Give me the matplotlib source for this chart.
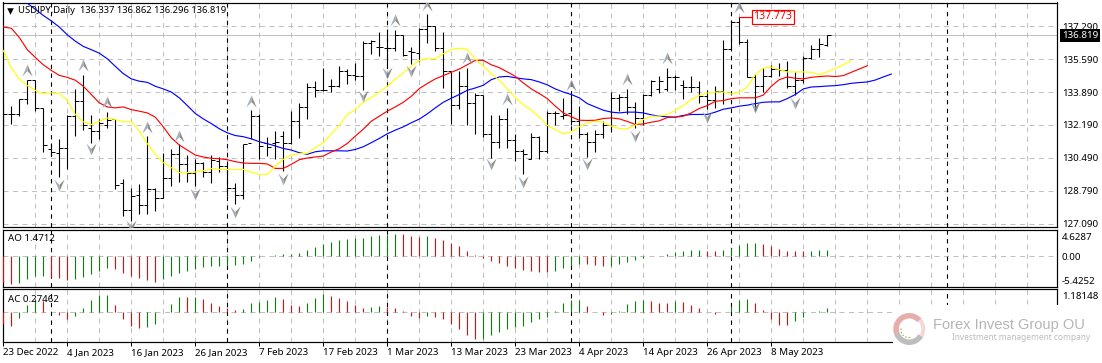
import numpy as np
import matplotlib
matplotlib.use('Agg')
import matplotlib.pyplot as plt
from matplotlib.path import Path
from matplotlib.patches import Rectangle, Wedge, Arc

#=======================================================================================
# Values
#=======================================================================================

highs = [133.19,133.19,133.55,134.50,134.50,133.07,131.27,131.44,132.68,134.05,
	134.79,132.68,132.50,132.87,132.52,129.41,128.91,129.15,131.61,128.91,
	130.72,130.92,131.18,130.62,130.44,130.27,130.62,130.55,130.24,129.17,
	131.22,132.95,132.73,131.58,131.85,131.90,132.93,133.33,134.36,134.45,
	135.13,134.57,135.25,135.08,135.39,136.54,136.59,136.97,136.94,137.11,
	136.82,136.21,137.19,137.93,137.33,136.99,134.93,134.96,135.13,133.84,
	133.76,132.68,132.68,133.04,131.70,130.96,131.78,131.61,132.90,132.93,
	133.59,133.84,133.19,131.82,131.92,132.38,133.88,133.79,134.05,133.36,
	133.79,134.53,134.70,135.13,134.79,134.53,134.74,134.48,133.98,134.22,
	136.59,137.59,137.773,136.63,134.84,135.13,135.30,135.39,135.51,134.91,
	135.73,136.33,136.68,136.862]
lows = [132.13,132.26,132.64,133.29,132.90,130.79,130.58,129.50,129.89,131.64,
	131.95,131.27,131.44,132.04,128.86,127.49,127.23,127.57,127.57,127.74,
	128.40,129.03,129.24,129.24,129.03,129.50,129.17,129.75,128.52,128.09,
	128.35,131.44,130.44,130.58,130.41,129.81,131.18,131.49,132.52,133.62,
	133.93,133.89,134.15,134.32,134.53,134.02,135.87,135.73,135.30,135.99,
	135.73,135.35,135.51,136.45,135.99,134.10,132.26,133.02,132.21,131.70,
	131.58,130.49,131.01,131.01,130.32,129.63,130.44,130.41,130.75,132.16,
	132.50,132.21,131.52,130.55,130.79,131.52,131.82,132.93,132.73,132.04,
	132.21,133.67,133.84,133.93,133.98,133.53,133.88,133.33,133.02,133.07,
	133.29,136.08,136.37,134.65,132.90,133.88,134.65,134.70,134.10,133.76,
	134.36,135.60,135.70,136.296]
opens = [132.72,132.76,132.76,133.53,134.50,133.04,130.92,130.75,131.01,132.64,
	133.45,132.04,131.90,132.21,132.47,129.21,127.80,128.55,128.05,128.90,
	128.40,129.46,130.67,130.15,129.72,130.24,129.75,130.32,130.06,128.95,
	128.57,131.27,132.64,131.23,131.27,131.61,131.23,132.38,133.10,134.15,
	133.98,134.22,134.22,135.00,134.79,134.74,136.45,136.20,136.16,136.16,
	136.82,135.99,135.90,137.16,137.31,136.16,134.96,133.21,134.19,133.33,
	133.72,131.73,131.32,132.47,131.39,130.84,130.44,131.58,130.84,132.81,
	132.64,132.81,132.38,131.70,131.32,131.70,132.21,133.59,133.64,133.12,
	132.55,133.76,134.05,134.05,134.67,134.27,134.15,134.15,133.67,133.50,
	133.93,136.11,137.49,136.47,134.65,134.22,134.74,135.10,135.05,134.22,
	134.53,135.65,136.11,136.337]
closes = [132.76,132.76,133.53,134.50,133.04,131.13,130.80,131.01,132.64,133.45,
	132.21,131.90,132.30,132.43,129.10,127.80,128.52,128.05,128.90,128.40,
	129.46,130.67,130.15,129.72,130.24,129.75,130.37,130.06,128.95,128.57,
	131.18,132.64,131.10,131.06,131.30,131.23,132.38,133.10,134.15,133.98,
	134.02,134.19,135.00,134.79,134.74,136.45,136.54,136.20,136.16,136.82,
	135.78,135.96,137.16,137.31,136.16,134.96,133.21,134.19,133.33,133.76,
	131.73,131.32,132.47,131.39,130.84,130.70,131.58,130.84,132.81,132.81,
	132.68,132.38,131.70,131.32,131.70,132.21,133.59,133.64,133.12,132.55,
	133.76,134.48,134.48,134.67,134.67,134.15,134.15,133.67,133.50,133.93,
	136.11,137.49,136.47,134.65,134.22,134.74,135.10,135.05,134.22,134.53,
	135.65,136.11,136.38,136.819]

jaw = [139.69,139.26,138.79,138.48,138.17,137.85,137.57,137.25,136.85,136.52,
	136.25,136.08,135.90,135.61,135.22,134.84,134.57,134.45,134.39,134.19,
	134.05,133.89,133.59,133.19,132.78,132.50,132.26,131.99,131.78,131.64,
	131.58,131.47,131.32,131.22,131.10,130.97,130.89,130.75,130.67,130.80,
	130.85,130.85,130.85,130.84,130.92,131.06,131.27,131.49,131.73,131.92,
	132.09,132.30,132.49,132.76,133.07,133.36,133.57,133.76,133.98,134.10,
	134.24,134.53,134.67,134.70,134.63,134.57,134.53,134.41,134.26,134.05,
	133.89,133.76,133.59,133.29,133.12,132.95,132.85,132.81,132.85,132.85,
	132.81,132.71,132.64,132.61,132.59,132.68,132.73,132.73,132.73,132.85,
	133.00,133.07,133.16,133.21,133.29,133.36,133.38,133.38,133.55,133.76,
	134.05,134.15,134.17,134.20,134.22,134.27,134.34,134.38,134.41,134.51,
	134.67,134.82]
teeth = [137.25,137.19,136.71,136.08,135.68,135.30,135.01,134.75,134.65,134.50,
	134.19,133.76,133.33,133.12,133.07,133.12,132.98,132.90,132.81,132.59,
	132.09,131.52,131.15,130.89,130.63,130.53,130.46,130.44,130.39,130.29,
	130.22,130.20,130.20,130.17,129.94,129.94,130.15,130.39,130.48,130.53,
	130.58,130.79,130.96,131.23,131.61,131.97,132.38,132.64,132.90,133.12,
	133.36,133.67,134.07,134.33,134.57,134.74,134.91,135.08,135.30,135.53,
	135.53,135.30,135.15,134.93,134.70,134.36,134.05,133.81,133.55,133.16,
	132.81,132.61,132.43,132.42,132.43,132.52,132.55,132.50,132.37,132.21,
	132.24,132.33,132.40,132.57,132.59,132.64,132.81,133.04,133.19,133.41,
	133.45,133.55,133.59,133.59,133.59,133.73,134.19,134.53,134.67,134.60,
	134.57,134.65,134.69,134.72,134.69,134.74,134.91,135.08,135.25]
lips = [136.04,135.13,134.56,134.22,133.98,133.79,133.84,133.83,133.45,132.73,
	132.35,132.21,132.38,132.55,132.47,132.35,132.35,131.87,131.22,130.67,
	130.24,129.98,129.72,129.72,129.75,129.82,129.93,129.89,129.88,129.88,
	129.89,129.75,129.63,129.63,130.06,130.41,130.63,130.70,130.72,131.01,
	131.27,131.73,132.16,132.73,132.98,133.37,133.59,133.89,134.19,134.56,
	134.87,135.22,135.53,135.61,135.61,135.87,136.09,136.16,136.08,135.60,
	135.22,134.84,134.50,134.07,133.59,133.24,132.95,132.61,132.16,131.95,
	131.73,131.82,132.09,132.30,132.38,132.33,132.13,132.00,131.99,132.18,
	132.47,132.64,132.64,132.73,132.95,133.19,133.50,133.72,133.84,133.89,
	133.89,133.79,133.88,134.15,134.79,135.13,135.18,135.05,134.93,134.93,
	134.93,134.91,134.79,134.93,135.10,135.30,135.51]

ao = [-5.79,-6.32,-6.02,-5.18,-4.50,-4.42,-4.80,-5.03,-5.41,-5.18,
	-4.65,-4.11,-3.35,-2.67,-2.90,-3.73,-4.50,-4.95,-5.41,-5.87,
	-5.18,-4.50,-3.89,-3.35,-2.90,-2.51,-2.21,-2.20,-1.98,-1.96,
	-1.75,-1.07,-0.15,0.15,0.30,0.53,0.54,0.76,1.45,2.06,
	2.82,3.35,3.73,3.96,4.27,4.28,4.65,4.88,4.95,5.11,
	5.05,4.65,4.50,4.55,4.19,3.73,3.12,2.36,1.22,0.30,
	-0.30,-1.07,-1.52,-2.21,-2.74,-3.12,-3.35,-3.58,-3.66,-3.35,
	-2.67,-2.13,-1.75,-1.78,-1.98,-2.25,-2.21,-1.68,-1.30,-0.84,
	-0.30,0.02,0.08,0.53,0.99,1.22,1.45,1.46,1.22,1.20,
	1.45,1.83,2.59,3.05,3.06,2.82,2.36,1.68,1.30,1.25,
	1.20,1.25,1.37,1.4712]
ac = [-0.85,-0.94,-0.38,0.52,0.94,0.80,0.05,-0.19,-0.47,-0.24,
	0.28,0.87,1.23,1.24,0.52,-0.47,-0.94,-1.09,-1.01,-0.83,
	0.02,0.57,1.09,1.08,1.11,0.94,0.68,0.45,0.28,0.14,
	0.24,0.66,0.71,0.87,1.09,0.94,0.52,0.45,0.66,1.01,
	1.30,1.16,1.04,0.80,0.52,0.31,0.38,0.45,0.38,0.31,
	0.09,-0.24,-0.38,-0.24,-0.31,-0.47,-0.83,-1.18,-1.60,-1.91,
	-1.89,-1.60,-1.37,-1.18,-1.01,-1.00,-0.68,-0.45,-0.31,0.09,
	0.66,0.87,0.88,0.45,0.02,-0.19,-0.09,0.09,0.59,0.80,
	0.87,0.80,0.66,0.65,0.80,0.73,0.52,0.31,0.00,-0.12,
	0.01,0.45,0.87,0.94,0.66,0.17,-0.47,-0.90,-0.91,-0.61,
	-0.33,0.02,0.07,0.27462]

fractal_up_bars = [3,10,13,18,22,31,49,53,58,63,71,78,83,92]
fractal_up_vals = [135.01,135.27,133.38,132.07,131.61,133.41,137.59,138.40,135.65,133.55,134.24,134.56,135.65,138.28]
fractal_dn_bars = [7,11,16,24,29,35,45,48,51,61,65,73,79,88,94,99]
fractal_dn_vals = [129.08,130.92,126.97,128.64,127.71,129.41,133.67,134.87,134.99,130.15,129.26,130.18,131.64,132.61,133.12,133.33]

price_ticks = [127.09,128.79,130.49,132.19,133.89,135.59,137.29]
date_bars = [0,8,16,24,32,40,48,56,64,72,80,88,96]
date_labels = ['23 Dec 2022','4 Jan 2023','16 Jan 2023','26 Jan 2023','7 Feb 2023','17 Feb 2023','1 Mar 2023',
	'13 Mar 2023','23 Mar 2023','4 Apr 2023','14 Apr 2023','26 Apr 2023','8 May 2023']
month_bars = [6,28,48,71,91,118]
last_price = 136.819
high_label = 137.773

#=======================================================================================
# Figure and panes, placed in pixels
#=======================================================================================

W,H = 1102,363
plt.rcParams['font.family'] = ['Noto Sans','DejaVu Sans']
fig = plt.figure(figsize=(W/100,H/100),dpi=100,facecolor='white')

def pane(top,bottom):
	return fig.add_axes([2.5/W,1-bottom/H,(1056.7-2.5)/W,(bottom-top)/H])

ax1 = pane(2.5,226.7)
ax2 = pane(229.7,287.0)
ax3 = pane(289.3,342.3)

xlim = (-0.1,131.675)
grid_col = '#c0c0c0'
fs = 7.0
px = 0.72 # one pixel in points
dash = (0,(5,4.5))

def snapped(col):
	col.set_snap(True)
	return col

for ax in [ax1,ax2,ax3]:
	ax.set_xlim(xlim)
	for s in ax.spines.values():
		s.set_linewidth(px*1.2)
		s.set_color('k')
	ax.yaxis.tick_right()
	ax.tick_params(axis='y',length=0,pad=3.8,labelsize=fs)
	ax.set_xticks([])
	snapped(ax.vlines(np.arange(4,132,4),0,1,transform=ax.get_xaxis_transform(),color=grid_col,lw=px,linestyle=dash,zorder=1))
	snapped(ax.vlines(month_bars,0,1,transform=ax.get_xaxis_transform(),color='k',lw=px*1.1,linestyle=(0,(4,4)),zorder=2))

#=======================================================================================
# Main pane
#=======================================================================================

ax1.set_ylim(126.925,138.52)
ax1.set_yticks(price_ticks)
ax1.set_yticklabels([f'{p:.3f}' for p in price_ticks])
snapped(ax1.hlines(price_ticks,xlim[0],xlim[1],color=grid_col,lw=px,linestyle=dash,zorder=1))
ax1.axhline(last_price,color='#c0c0c0',lw=px,zorder=1)

x = np.arange(len(closes))
snapped(ax1.vlines(x,lows,highs,color='k',lw=px*1.1,zorder=4))
snapped(ax1.hlines(opens,x-0.4,x,color='k',lw=px,zorder=4))
snapped(ax1.hlines(closes,x,x+0.4,color='k',lw=px,zorder=4))

ax1.plot(np.arange(len(jaw)),jaw,color='#0000ff',lw=px*1.15,zorder=5)
ax1.plot(np.arange(len(teeth)),teeth,color='#ff0000',lw=px*1.15,zorder=5)
ax1.plot(np.arange(len(lips)),lips,color='#ffff00',lw=px*1.15,zorder=5)

# fractal arrows, two tone
left_up = Path([(0,1),(0,-0.1),(-0.85,-1),(0,1)])
right_up = Path([(0,1),(0.85,-1),(0,-0.1),(0,1)])
left_dn = Path([(0,-1),(-0.85,1),(0,0.1),(0,-1)])
right_dn = Path([(0,-1),(0,0.1),(0.85,1),(0,-1)])
ax1.scatter(fractal_up_bars,fractal_up_vals,marker=left_up,s=75,color='#a3b0bd',linewidths=0,zorder=6)
ax1.scatter(fractal_up_bars,fractal_up_vals,marker=right_up,s=75,color='#8f8c89',linewidths=0,zorder=6)
ax1.scatter(fractal_dn_bars,fractal_dn_vals,marker=left_dn,s=75,color='#a3b0bd',linewidths=0,zorder=6)
ax1.scatter(fractal_dn_bars,fractal_dn_vals,marker=right_dn,s=75,color='#8f8c89',linewidths=0,zorder=6)

# high label
ax1.plot([92,93.4],[high_label,high_label],color='#ff0000',lw=px*1.2,zorder=6)
ax1.text(93.75,high_label,f'{high_label:.3f}',color='#ff0000',fontsize=7.6,va='center',ha='left',zorder=7,
	bbox=dict(boxstyle='square,pad=0.13',fc='white',ec='#ff0000',lw=px*1.2))

# last price box
ax1.annotate(f'{last_price:.3f}',xy=(1,last_price),xycoords=('axes fraction','data'),xytext=(5,0),textcoords='offset pixels',
	color='white',fontsize=fs,va='center',ha='left',annotation_clip=False,zorder=8,
	bbox=dict(boxstyle='square,pad=0.22',fc='k',ec='k',lw=0))

ax1.text(18/W,1-10.7/H,'USDJPY,Daily  136.337 136.862 136.296 136.819',transform=fig.transFigure,fontsize=6.8,va='center',ha='left',zorder=9)
ax1.scatter([9.5/W],[1-10.7/H],transform=fig.transFigure,marker='v',s=22,color='k',linewidths=0,zorder=9,clip_on=False)

#=======================================================================================
# AO and AC panes
#=======================================================================================

def osc(ax,vals):
	vals = np.array(vals)
	rising = np.r_[False,vals[1:]>vals[:-1]]
	cols = ['#0a7f0a' if r else '#ff0000' for r in rising]
	snapped(ax.hlines([0],xlim[0],xlim[1],color=grid_col,lw=px,linestyle=dash,zorder=1))
	snapped(ax.vlines(np.arange(len(vals)),0,vals,colors=cols,lw=px*1.1,zorder=4))

osc(ax2,ao)
ax2.set_ylim(-7.0,6.1)
ao_ticks = [-5.4252,0,4.6287]
ax2.set_yticks(ao_ticks)
ax2.set_yticklabels(['-5.4252','0.00','4.6287'])
ax2.text(7.5/W,1-238.7/H,'AO 1.4712',transform=fig.transFigure,fontsize=fs,va='center',ha='left',zorder=9)

osc(ax3,ac)
ax3.set_ylim(-2.12,1.63)
ax3.set_yticks([1.18148])
ax3.set_yticklabels(['1.18148'])
ax3.text(7.5/W,1-299/H,'AC 0.27462',transform=fig.transFigure,fontsize=fs,va='center',ha='left',zorder=9)

ax3.set_xticks(date_bars)
ax3.set_xticklabels(date_labels,ha='left')
ax3.tick_params(axis='x',length=3,width=px,pad=1,labelsize=fs)

#=======================================================================================
# Logo in the lower right corner
#=======================================================================================

ov = fig.add_axes([0,0,1,1],zorder=20)
ov.set_xlim(0,W)
ov.set_ylim(H,0)
ov.axis('off')
ov.patch.set_alpha(0)
ov.add_patch(Rectangle((893,305),W-893,H-305,fc='white',ec='none'))
ov.add_patch(Wedge((909.3,329),16,30,160,width=5.5,fc='#bdbdbd',ec='none'))
ov.add_patch(Wedge((909.3,329),16,160,320,width=5.5,fc='#e6adab',ec='none'))
ov.add_patch(Wedge((909.3,329),16,320,390,width=4,fc='#f3d8d6',ec='none'))
ov.add_patch(Arc((908.5,330),15,15,theta1=80,theta2=200,ec='#9aa84a',lw=0.9,linestyle=':'))
ov.text(933,325,'Forex Invest Group OU',color='#b5b5b5',fontsize=10.5,family=['Liberation Sans'],va='center',ha='left')
ov.text(952,338,'Investment management company',color='#bdbdbd',fontsize=6.0,va='center',ha='left')

fig.savefig('out.png',dpi=100,facecolor='white')
plt.close()
